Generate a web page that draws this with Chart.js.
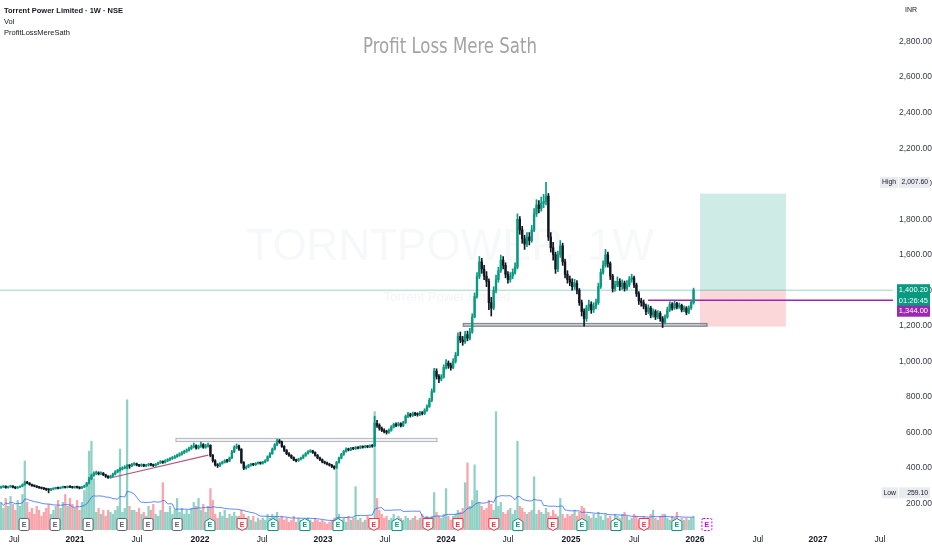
<!DOCTYPE html>
<html>
<head>
<meta charset="utf-8">
<title>Torrent Power Limited · 1W · NSE</title>
<script src="https://cdn.jsdelivr.net/npm/chart.js@4.4.1/dist/chart.umd.min.js"></script>
<style>
  html, body { margin: 0; padding: 0; background: #ffffff; }
  #box { width: 932px; height: 550px; }
</style>
</head>
<body>
<div id="box"><canvas id="chart" width="932" height="550"></canvas></div>
<script>
// Weekly candles, index 0 = first visible week (June 2020), last = first week of Jan 2026
const OPEN = [
  288, 292, 296, 289, 293, 297, 291, 287, 291, 296,
  305, 318, 314, 306, 300, 297, 292, 288, 285, 282,
  279, 276, 280, 284, 287, 285, 289, 292, 290, 294,
  292, 289, 293, 290, 286, 292, 299, 313, 338, 357,
  368, 372, 366, 370, 361, 352, 346, 353, 364, 377,
  386, 393, 399, 405, 412, 411, 419, 423, 416, 412,
  418, 411, 415, 421, 417, 413, 420, 428, 435, 431,
  440, 446, 452, 457, 463, 470, 478, 485, 493, 500,
  509, 518, 525, 512, 521, 531, 516, 523, 527, 470,
  440, 418, 412, 425, 432, 440, 438, 455, 490, 515,
  522, 505, 430, 398, 405, 415, 420, 418, 425, 428,
  426, 432, 440, 462, 480, 505, 530, 552, 545, 520,
  498, 480, 470, 458, 445, 440, 449, 456, 469, 481,
  491, 495, 486, 471, 456, 446, 433, 428, 421, 415,
  408, 400, 430, 455, 476, 493, 506, 501, 511, 508,
  515, 512, 520, 516, 522, 518, 525, 524, 650, 640,
  622, 612, 605, 600, 612, 630, 645, 640, 648, 638,
  655, 690, 700, 695, 705, 702, 700, 710, 706, 725,
  745, 780, 830, 945, 915, 900, 910, 965, 990, 975,
  965, 1000, 1035, 1140, 1120, 1110, 1150, 1130, 1165, 1250,
  1365, 1478, 1560, 1520, 1480, 1450, 1330, 1300, 1400, 1460,
  1510, 1570, 1540, 1490, 1460, 1480, 1500, 1530, 1800, 1740,
  1690, 1660, 1700, 1680, 1740, 1830, 1880, 1860, 1890, 1900,
  1930, 1700, 1640, 1600, 1520, 1600, 1650, 1560, 1490, 1460,
  1445, 1420, 1440, 1400, 1330, 1280, 1240, 1300, 1320, 1290,
  1310, 1330, 1420, 1500, 1540, 1600, 1550, 1480, 1410, 1430,
  1450, 1420, 1440, 1410, 1430, 1460, 1470, 1430, 1380, 1340,
  1330, 1310, 1280, 1300, 1260, 1280, 1250, 1270, 1240, 1220,
  1250, 1290, 1320, 1300, 1325, 1305, 1315, 1290, 1300, 1275,
  1300, 1330
];
const HIGH = [
  297, 300, 299, 297, 302, 300, 294, 295, 299, 310,
  325, 324, 317, 309, 304, 300, 296, 292, 289, 286,
  283, 284, 288, 291, 292, 293, 297, 296, 298, 299,
  296, 297, 297, 294, 296, 303, 318, 346, 365, 378,
  382, 378, 377, 374, 364, 356, 359, 370, 384, 392,
  402, 406, 412, 418, 417, 426, 430, 427, 420, 423,
  421, 420, 426, 425, 421, 425, 433, 441, 440, 446,
  452, 458, 464, 470, 477, 485, 492, 500, 507, 517,
  528, 540, 530, 528, 545, 536, 532, 540, 530, 475,
  446, 424, 430, 438, 446, 448, 461, 498, 524, 535,
  528, 508, 435, 412, 420, 426, 425, 430, 434, 433,
  437, 446, 468, 486, 512, 537, 562, 560, 550, 525,
  503, 486, 474, 462, 450, 454, 461, 474, 486, 497,
  503, 499, 490, 475, 461, 450, 438, 432, 426, 420,
  412, 436, 460, 482, 499, 512, 511, 516, 515, 520,
  519, 525, 524, 527, 526, 530, 531, 690, 668, 648,
  630, 620, 612, 620, 638, 652, 654, 656, 654, 662,
  698, 712, 708, 714, 712, 710, 718, 717, 733, 755,
  792, 845, 960, 958, 925, 925, 980, 1010, 1002, 990,
  1015, 1050, 1160, 1165, 1140, 1168, 1170, 1185, 1268, 1385,
  1500, 1590, 1580, 1540, 1505, 1465, 1360, 1420, 1485, 1530,
  1598, 1590, 1555, 1505, 1500, 1520, 1555, 1830, 1815, 1760,
  1710, 1725, 1725, 1765, 1860, 1910, 1905, 1925, 1940, 2007.6,
  1945, 1725, 1670, 1615, 1620, 1680, 1665, 1575, 1510, 1480,
  1465, 1462, 1455, 1410, 1345, 1295, 1315, 1345, 1335, 1330,
  1350, 1440, 1520, 1565, 1630, 1615, 1560, 1490, 1452, 1475,
  1465, 1458, 1452, 1455, 1478, 1490, 1480, 1440, 1392, 1355,
  1345, 1322, 1318, 1310, 1295, 1290, 1285, 1280, 1252, 1262,
  1305, 1335, 1330, 1338, 1332, 1328, 1322, 1312, 1308, 1312,
  1342, 1412
];
const LOW = [
  284, 288, 285, 286, 290, 287, 282, 284, 288, 293,
  302, 310, 302, 296, 293, 288, 284, 281, 277, 272,
  259.1, 271, 276, 280, 281, 282, 285, 286, 287, 288,
  285, 285, 286, 281, 283, 289, 296, 310, 333, 352,
  362, 360, 361, 356, 346, 340, 342, 349, 360, 372,
  381, 388, 394, 394, 397, 406, 414, 411, 406, 407,
  406, 406, 410, 411, 407, 409, 416, 424, 425, 427,
  435, 441, 447, 452, 458, 465, 472, 480, 487, 494,
  503, 512, 505, 506, 515, 510, 510, 516, 462, 432,
  410, 402, 406, 420, 427, 431, 434, 452, 485, 508,
  498, 425, 390, 392, 400, 410, 412, 413, 420, 420,
  421, 428, 437, 457, 476, 500, 525, 538, 515, 492,
  474, 464, 452, 440, 434, 436, 444, 452, 464, 477,
  486, 481, 466, 451, 440, 428, 422, 416, 410, 401,
  392, 397, 426, 450, 470, 488, 495, 497, 502, 503,
  506, 508, 511, 512, 513, 514, 516, 520, 628, 612,
  604, 596, 590, 594, 606, 624, 632, 634, 630, 632,
  650, 683, 686, 689, 694, 691, 694, 698, 700, 718,
  740, 772, 825, 900, 880, 890, 905, 955, 960, 950,
  958, 990, 1030, 1105, 1090, 1100, 1115, 1120, 1158, 1245,
  1355, 1465, 1495, 1460, 1420, 1290, 1255, 1290, 1385, 1445,
  1500, 1520, 1470, 1440, 1445, 1465, 1490, 1520, 1715, 1665,
  1630, 1645, 1655, 1670, 1730, 1815, 1835, 1845, 1865, 1880,
  1680, 1615, 1570, 1495, 1505, 1585, 1540, 1470, 1440, 1425,
  1400, 1405, 1380, 1315, 1255, 1198, 1225, 1285, 1270, 1275,
  1295, 1320, 1410, 1490, 1530, 1530, 1460, 1390, 1395, 1420,
  1400, 1405, 1395, 1400, 1420, 1445, 1415, 1365, 1320, 1310,
  1295, 1262, 1268, 1245, 1248, 1235, 1240, 1225, 1190, 1210,
  1242, 1280, 1288, 1292, 1295, 1298, 1278, 1280, 1262, 1268,
  1292, 1322
];
const CLOSE = [
  292, 296, 289, 293, 297, 291, 287, 291, 295, 305,
  318, 314, 306, 300, 297, 292, 288, 285, 282, 279,
  276, 280, 284, 287, 285, 289, 292, 290, 294, 292,
  289, 293, 290, 286, 292, 298, 312, 338, 357, 368,
  372, 366, 370, 361, 352, 346, 353, 364, 377, 386,
  393, 399, 405, 412, 411, 419, 423, 416, 412, 418,
  411, 415, 421, 417, 413, 420, 428, 435, 431, 440,
  446, 452, 457, 463, 470, 478, 485, 493, 500, 509,
  518, 525, 512, 521, 531, 516, 523, 527, 470, 440,
  418, 412, 425, 432, 440, 438, 455, 490, 515, 522,
  505, 430, 398, 405, 415, 420, 418, 425, 428, 426,
  432, 440, 462, 480, 505, 530, 552, 545, 520, 498,
  480, 470, 458, 445, 440, 449, 456, 469, 481, 491,
  495, 486, 471, 456, 446, 433, 428, 421, 415, 408,
  400, 430, 455, 476, 493, 506, 501, 511, 508, 515,
  512, 520, 516, 522, 518, 525, 522, 650, 640, 622,
  612, 605, 600, 612, 630, 645, 640, 648, 638, 655,
  690, 700, 695, 705, 702, 700, 710, 706, 725, 745,
  780, 830, 945, 915, 900, 910, 965, 990, 975, 965,
  1000, 1035, 1140, 1120, 1110, 1150, 1130, 1165, 1250, 1365,
  1478, 1560, 1520, 1480, 1450, 1330, 1300, 1400, 1460, 1510,
  1570, 1540, 1490, 1460, 1480, 1500, 1530, 1800, 1740, 1690,
  1660, 1700, 1680, 1740, 1830, 1880, 1860, 1890, 1900, 1930,
  1700, 1640, 1600, 1520, 1600, 1650, 1560, 1490, 1460, 1445,
  1420, 1440, 1400, 1330, 1280, 1240, 1300, 1320, 1290, 1310,
  1330, 1420, 1500, 1540, 1600, 1550, 1480, 1410, 1430, 1450,
  1420, 1440, 1410, 1430, 1460, 1470, 1430, 1380, 1340, 1330,
  1310, 1280, 1300, 1260, 1280, 1250, 1270, 1240, 1220, 1250,
  1290, 1320, 1300, 1325, 1305, 1315, 1290, 1300, 1275, 1300,
  1330, 1400.2
];
// weekly volume (lakh shares, approx.)
const VOLUME = [
  14, 11, 16, 12, 17, 13, 10, 15, 12, 18,
  35, 14, 9, 11, 8, 12, 10, 7, 9, 11,
  13, 8, 10, 12, 15, 11, 14, 18, 12, 16,
  13, 11, 15, 10, 14, 20, 24, 40, 45, 26,
  9, 11, 8, 10, 7, 10, 9, 8, 10, 12,
  41, 9, 11, 66, 12, 10, 10, 9, 11, 8,
  9, 7, 12, 10, 13, 8, 7, 10, 24, 9,
  9, 12, 8, 10, 16, 9, 11, 8, 10, 8,
  11, 14, 12, 16, 10, 13, 9, 12, 21, 15,
  8, 6, 9, 7, 10, 6, 8, 7, 9, 7,
  7, 10, 8, 6, 7, 5, 7, 4, 6, 5,
  6, 5, 8, 6, 8, 7, 9, 6, 7, 5,
  6, 4, 5, 7, 4, 6, 5, 4, 5, 6,
  5, 4, 6, 5, 4, 5, 4, 3, 4, 5,
  6, 32, 8, 5, 6, 4, 7, 5, 6, 22,
  5, 6, 4, 5, 7, 6, 5, 60, 16, 10,
  8, 6, 7, 5, 6, 8, 5, 7, 6, 5,
  7, 6, 5, 6, 7, 5, 6, 8, 6, 7,
  6, 7, 19, 9, 7, 6, 8, 21, 7, 5,
  7, 8, 10, 9, 11, 24, 34, 12, 15, 33,
  20, 14, 12, 10, 11, 15, 13, 10, 60, 12,
  14, 9, 8, 10, 11, 8, 10, 45, 12, 11,
  9, 8, 9, 10, 27, 8, 10, 9, 8, 11,
  9, 7, 10, 8, 7, 16, 8, 6, 8, 7,
  8, 10, 7, 9, 12, 11, 8, 7, 6, 8,
  6, 9, 7, 5, 8, 6, 7, 5, 8, 7,
  6, 8, 9, 7, 5, 6, 8, 7, 5, 6,
  7, 5, 6, 8, 10, 6, 5, 7, 8, 8,
  6, 5, 7, 6, 9, 5, 6, 5, 6, 5,
  6, 7
];

// Axis ticks (time axis positions are in week index units)
const PRICE_TICKS = [200, 400, 600, 800, 1000, 1200, 1400, 1600, 1800, 2000, 2200, 2400, 2600, 2800];
const TIME_TICK_POS = [5.5, 31.1, 57.1, 83.6, 109.7, 135.3, 161.3, 187, 213, 239.5, 266, 291.6, 318, 343.3, 369.3];
const TIME_TICK_LABELS = ['Jul', '2021', 'Jul', '2022', 'Jul', '2023', 'Jul', '2024', 'Jul', '2025', 'Jul', '2026', 'Jul', '2027', 'Jul'];

// Earnings events: week index + kind (past / up / down / next)
const EARN_WEEKS = [9.7, 22.7, 36.6, 50.8, 61.8, 74, 87.8, 101.3, 114.3, 127.7, 141.6, 156.7,
  166.4, 179.4, 192, 207.1, 217.2, 231.9, 244.1, 258.4, 270.2, 284, 296.6];
const EARN_KIND = ['past', 'past', 'past', 'past', 'past', 'past', 'up', 'down', 'up', 'up', 'up', 'down',
  'up', 'down', 'down', 'down', 'up', 'down', 'up', 'up', 'down', 'up', 'next'];

// Drawings: [fromWeek, toWeek, lowPrice, highPrice]
const ZONES = [[73.5, 183.2, 548, 566], [194.3, 296.6, 1198, 1212]];
const TREND = [45.8, 343, 87.1, 472];
const LEVEL_PRICE = 1344;
const LEVEL_FROM = 271.9;
const POSITION = { from: 293.7, to: 329.8, entry: 1400.2, target: 1944, stop: 1195 };
const HIGH_MARK = 2007.6;
const LOW_MARK = 259.1;
const COUNTDOWN = '01:26:45';

const THEME = {
    font: '"Liberation Sans", Arial, sans-serif',
    text: '#131722',
    axisText: '#363a45',
    up: '#089981',
    down: '#131722',
    volUp: 'rgba(8,153,129,0.45)',
    volDown: 'rgba(242,54,69,0.45)',
    volMa: 'rgba(41,98,255,0.75)',
    purple: '#9c27b0'
};
const EARN_COLORS = { past: '#5d606b', up: '#089981', down: '#f23645', next: '#d500f9' };

const fmtPrice = v => v.toLocaleString('en-US', { minimumFractionDigits: 2, maximumFractionDigits: 2 });

// Derived tables for the datasets
const isUp = CLOSE.map((c, i) => c >= OPEN[i]);
const candleColors = isUp.map(u => u ? THEME.up : THEME.down);
const volColors = isUp.map(u => u ? THEME.volUp : THEME.volDown);
const volMa = VOLUME.map((v, i) => {
    const win = VOLUME.slice(Math.max(0, i - 19), i + 1);
    return win.reduce((a, b) => a + b, 0) / win.length;
});

// Small helper for the price-axis tags
const tag = (ctx, x0, x1, yc, h, bg, fg, lines, fontSize) => {
    ctx.fillStyle = bg;
    ctx.fillRect(x0, yc - h / 2, x1 - x0, h);
    ctx.fillStyle = fg;
    ctx.font = `${fontSize}px ${THEME.font}`;
    ctx.textAlign = 'right';
    ctx.textBaseline = 'middle';
    lines.forEach((t, k) => ctx.fillText(t, x1 - 2, yc - (lines.length - 1) * 5.5 + k * 11));
};

const drawEarning = (ctx, cx, cy, kind) => {
    const col = EARN_COLORS[kind];
    const w = 5, h = 6;
    ctx.beginPath();
    if (kind === 'up') {
        ctx.moveTo(cx - w, cy + h); ctx.lineTo(cx - w, cy - h + 3); ctx.lineTo(cx, cy - h);
        ctx.lineTo(cx + w, cy - h + 3); ctx.lineTo(cx + w, cy + h); ctx.closePath();
    } else if (kind === 'down') {
        ctx.moveTo(cx - w, cy - h); ctx.lineTo(cx + w, cy - h); ctx.lineTo(cx + w, cy + h - 3);
        ctx.lineTo(cx, cy + h); ctx.lineTo(cx - w, cy + h - 3); ctx.closePath();
    } else {
        ctx.roundRect(cx - w, cy - h, 2 * w, 2 * h, 1.5);
    }
    ctx.fillStyle = '#ffffff';
    ctx.fill();
    ctx.setLineDash(kind === 'next' ? [2, 1.5] : []);
    ctx.strokeStyle = col;
    ctx.lineWidth = 1;
    ctx.stroke();
    ctx.setLineDash([]);
    ctx.fillStyle = col;
    ctx.font = `bold 7px ${THEME.font}`;
    ctx.textAlign = 'center';
    ctx.textBaseline = 'middle';
    ctx.fillText('E', cx, cy + 0.5);
};

const overlay = {
    id: 'overlay',
    beforeDatasetsDraw(chart) {
        const { ctx, chartArea: a, scales: { x, y } } = chart;
        ctx.save();
        ctx.beginPath();
        ctx.rect(a.left, a.top, a.width, a.height);
        ctx.clip();

        // watermark (very faint)
        ctx.textAlign = 'center';
        ctx.textBaseline = 'middle';
        ctx.fillStyle = '#f7f8fa';
        ctx.font = `44px ${THEME.font}`;
        ctx.fillText('TORNTPOWER, 1W', 450, 248);
        ctx.fillStyle = '#f3f4f7';
        ctx.font = `13px ${THEME.font}`;
        ctx.fillText('Torrent Power Limited', 447, 297);

        // long position box
        const px0 = x.getPixelForValue(POSITION.from), px1 = x.getPixelForValue(POSITION.to);
        const yT = y.getPixelForValue(POSITION.target);
        const yE = y.getPixelForValue(POSITION.entry);
        const yS = y.getPixelForValue(POSITION.stop);
        ctx.fillStyle = 'rgba(8,153,129,0.2)';
        ctx.fillRect(px0, yT, px1 - px0, yE - yT);
        ctx.fillStyle = 'rgba(242,54,69,0.2)';
        ctx.fillRect(px0, yE, px1 - px0, yS - yE);

        // horizontal zones
        ZONES.forEach(([i0, i1, p0, p1], k) => {
            const xa = x.getPixelForValue(i0), xb = x.getPixelForValue(i1);
            const ya = y.getPixelForValue(p1), yb = y.getPixelForValue(p0);
            ctx.fillStyle = 'rgba(120,123,134,0.10)';
            ctx.fillRect(xa, ya, xb - xa, yb - ya);
            ctx.strokeStyle = k === 0 ? '#b2b5be' : '#868993';
            ctx.lineWidth = k === 0 ? 1 : 1.5;
            ctx.strokeRect(xa, ya, xb - xa, yb - ya);
        });

        // last price line
        const yLast = y.getPixelForValue(CLOSE[CLOSE.length - 1]);
        ctx.strokeStyle = 'rgba(8,153,129,0.4)';
        ctx.lineWidth = 1;
        ctx.beginPath();
        ctx.moveTo(a.left, yLast);
        ctx.lineTo(a.right, yLast);
        ctx.stroke();

        // purple level
        const yL = y.getPixelForValue(LEVEL_PRICE);
        ctx.strokeStyle = THEME.purple;
        ctx.lineWidth = 1.5;
        ctx.beginPath();
        ctx.moveTo(x.getPixelForValue(LEVEL_FROM), yL);
        ctx.lineTo(a.right, yL);
        ctx.stroke();

        // trend line
        ctx.strokeStyle = '#b5587c';
        ctx.lineWidth = 1.2;
        ctx.beginPath();
        ctx.moveTo(x.getPixelForValue(TREND[0]), y.getPixelForValue(TREND[1]));
        ctx.lineTo(x.getPixelForValue(TREND[2]), y.getPixelForValue(TREND[3]));
        ctx.stroke();
        ctx.restore();
    },
    afterDatasetsDraw(chart) {
        const { ctx, chartArea: a, scales: { x } } = chart;
        ctx.save();
        EARN_WEEKS.forEach((w, k) => drawEarning(ctx, x.getPixelForValue(w), a.bottom - 5.5, EARN_KIND[k]));
        ctx.restore();
    },
    afterDraw(chart) {
        const { ctx, chartArea: a, scales: { y } } = chart;
        ctx.save();

        // legend lines top-left
        ctx.textAlign = 'left';
        ctx.textBaseline = 'middle';
        ctx.fillStyle = THEME.text;
        ctx.font = `600 7.5px ${THEME.font}`;
        ctx.fillText('Torrent Power Limited · 1W · NSE', 4, 10.5);
        ctx.font = `7.5px ${THEME.font}`;
        ctx.fillText('Vol', 4, 21.5);
        ctx.fillText('ProfitLossMereSath', 4, 32.5);

        // title
        ctx.fillStyle = '#a3a3a3';
        ctx.font = `22px "Liberation Sans Narrow", "DejaVu Sans Condensed", ${THEME.font}`;
        const title = 'Profit Loss Mere Sath';
        const tw = ctx.measureText(title).width;
        const sx = Math.min(1, 174 / tw);
        ctx.save();
        ctx.translate(450, 47);
        ctx.scale(sx, 1);
        ctx.textAlign = 'center';
        ctx.fillText(title, 0, 0);
        ctx.restore();

        // currency
        ctx.fillStyle = THEME.text;
        ctx.font = `7px ${THEME.font}`;
        ctx.textAlign = 'left';
        ctx.fillText('INR', 905, 10);

        // price axis tags
        const xR = a.right;
        const yHi = y.getPixelForValue(HIGH_MARK);
        tag(ctx, xR + 6, 930, yHi, 11, '#e9ebf0', THEME.text, [fmtPrice(HIGH_MARK)], 6.8);
        tag(ctx, xR - 13, xR + 5, yHi, 11, '#e9ebf0', THEME.text, ['High'], 6.8);
        const yLo = y.getPixelForValue(LOW_MARK);
        tag(ctx, xR + 6, 930, yLo, 11, '#e9ebf0', THEME.text, [fmtPrice(LOW_MARK)], 6.8);
        tag(ctx, xR - 11, xR + 5, yLo, 11, '#e9ebf0', THEME.text, ['Low'], 6.8);

        const last = CLOSE[CLOSE.length - 1];
        const yLast = y.getPixelForValue(last);
        tag(ctx, xR + 4, 930, yLast + 5, 22, THEME.up, '#ffffff', [fmtPrice(last), COUNTDOWN], 7.5);
        const yLevel = Math.max(y.getPixelForValue(LEVEL_PRICE), yLast + 16 + 5);
        tag(ctx, xR + 4, 930, yLevel, 11, THEME.purple, '#ffffff', [fmtPrice(LEVEL_PRICE)], 7.5);
        ctx.restore();
    }
};

Chart.defaults.font.family = THEME.font;

new Chart(document.getElementById('chart'), {
    type: 'bar',
    data: {
        datasets: [
            {
                label: 'Vol',
                data: VOLUME.map((v, i) => ({ x: i, y: v })),
                yAxisID: 'yv',
                backgroundColor: volColors,
                barThickness: 1.6,
                grouped: false,
                order: 4
            },
            {
                type: 'line',
                label: 'Vol MA',
                data: volMa.map((v, i) => ({ x: i, y: v })),
                yAxisID: 'yv',
                borderColor: THEME.volMa,
                borderWidth: 1,
                pointRadius: 0,
                order: 3
            },
            {
                label: 'Wick',
                data: HIGH.map((h, i) => ({ x: i, y: [LOW[i], h] })),
                yAxisID: 'y',
                backgroundColor: candleColors,
                barThickness: 1,
                grouped: false,
                order: 2
            },
            {
                label: 'Body',
                data: OPEN.map((o, i) => ({ x: i, y: [o, CLOSE[i]] })),
                yAxisID: 'y',
                backgroundColor: candleColors,
                barThickness: 1.7,
                minBarLength: 1,
                grouped: false,
                order: 1
            }
        ]
    },
    options: {
        responsive: false,
        animation: false,
        events: [],
        layout: { padding: 0 },
        plugins: { legend: { display: false }, tooltip: { enabled: false } },
        scales: {
            x: {
                type: 'linear',
                min: -0.42,
                max: 374.8,
                offset: false,
                grid: { display: false, drawTicks: false },
                border: { display: false },
                afterBuildTicks: s => { s.ticks = TIME_TICK_POS.map(v => ({ value: v })); },
                afterFit: s => { s.height = 20; },
                ticks: {
                    autoSkip: false,
                    maxRotation: 0,
                    padding: 5,
                    color: THEME.text,
                    font: c => ({ size: 8.5, weight: (TIME_TICK_LABELS[c.index] || '').length === 4 ? 'bold' : 'normal' }),
                    callback: (v, i) => TIME_TICK_LABELS[i]
                }
            },
            y: {
                position: 'right',
                min: 50,
                max: 2994.4,
                grid: { display: false, drawTicks: false },
                border: { display: false },
                afterBuildTicks: s => { s.ticks = PRICE_TICKS.map(v => ({ value: v })); },
                afterFit: s => { s.width = 39; },
                ticks: {
                    padding: 2,
                    crossAlign: 'far',
                    color: THEME.axisText,
                    font: { size: 8.5 },
                    callback: v => fmtPrice(v)
                }
            },
            yv: { display: false, min: 0, max: 265 }
        }
    },
    plugins: [overlay]
});
</script>
</body>
</html>
